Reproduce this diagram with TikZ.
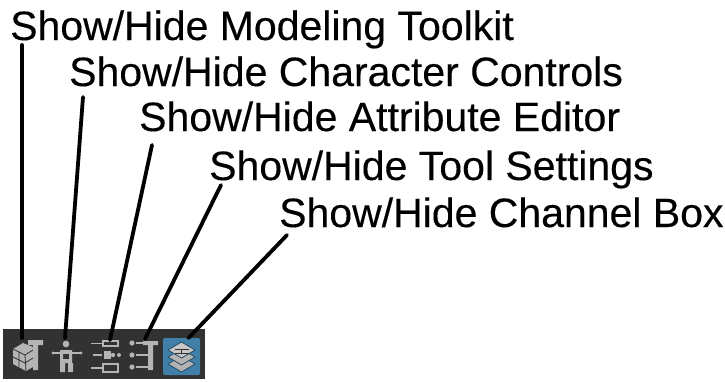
\documentclass[tikz,border=0pt]{standalone}
\usepackage{fontspec}
\setmainfont[FakeBold=0.25]{Liberation Sans}
\definecolor{bar}{HTML}{323232}
\definecolor{ico}{HTML}{B4B4B4}
\definecolor{blu}{HTML}{3F7FA8}
\tikzset{
 lab/.style={anchor=base west,inner sep=0pt,font=\fontsize{41}{46}\selectfont},
 lead/.style={line width=3.8pt,black,line cap=round},
 ic/.style={ico,line width=1.3pt},
 layer/.style={fill=ico,draw=blu!60!black,line width=.8pt}
}
\begin{document}
\begin{tikzpicture}[x=1pt,y=-1pt]
\useasboundingbox (0,0) rectangle (725,381);
\fill[white] (0,0) rectangle (725,381);
\node[lab] (t1) at (10,40) {Show/Hide Modeling Toolkit};
\node[lab] (t2) at (69,86) {Show/Hide Character Controls};
\node[lab] (t3) at (139,131) {Show/Hide Attribute Editor};
\node[lab] (t4) at (209,180) {Show/Hide Tool Settings};
\node[lab] (t5) at (279,227) {Show/Hide Channel Box};
\fill[bar] (3,329) rectangle (205,379);
\fill[blu,rounded corners=2pt] (163,338) rectangle (200,375);
% icon 1
\fill[ico] (13,349) -- (23,343) -- (33,347) -- (33,367) -- (26,371) -- (13,364) -- cycle;
\draw[bar,line width=.8pt] (13,349) -- (25,355) -- (33,350) (25,355) -- (26,371) (13,357) -- (25,363) -- (33,358) (19,352) -- (19,367);
\fill[ico] (28,340) -- (43,340) -- (43,345) -- (38,345) -- (38,370) -- (33,370) -- (33,345) -- (28,345) -- cycle;
% icon 2
\fill[ico] (66,344) circle (3.300);
\fill[ico] (53,353) circle (1.600) (81,353) circle (1.600);
\draw[ic] (54,353) -- (80,353);
\fill[ico,even odd rule] (60,350) rectangle (72,363) (63,353) rectangle (69,359);
\fill[ico] (60,363) rectangle (65,372) (68,363) rectangle (73,372);
% icon 3
\draw[ic] (91,343.500) -- (102,343.500) (93,355) -- (102,355) (91,368) -- (102,368);
\draw[ic] (103,341) rectangle (118,346);
\fill[ico] (104,351) rectangle (111,359);
\fill[ico] (113,355) circle (2.200) (119,355) circle (2);
\draw[ic] (103,364) rectangle (118,372);
% icon 4
\fill[ico] (132,343) circle (2.600) (132,355) circle (2.600) (132,367) circle (2.600);
\draw[ic] (136,343) -- (144,343) (136,355) -- (148,355) (136,367) -- (148,367);
\fill[ico] (143,341) -- (158,341) -- (158,345) -- (153,345) -- (153,370) -- (148,370) -- (148,345) -- (143,345) -- cycle;
% icon 5
\foreach \d in {364,357}{\fill[layer] (181.500,\d-8) -- (195,\d) -- (181.500,\d+8) -- (168,\d) -- cycle;}
\fill[layer,fill=ico!75!white] (181.500,342) -- (195,350) -- (181.500,358) -- (168,350) -- cycle;
\draw[bar,line width=1pt] (175,349) -- (189,349) (175,353) -- (189,353) (181.500,349) -- (181.500,353);
% connectors
\coordinate (a1) at (22,45); \coordinate (b1) at (22,338);
\coordinate (a2) at (83,97); \coordinate (b2) at (65,338);
\coordinate (a3) at (152,145); \coordinate (b3) at (110,340);
\coordinate (a4) at (221,185); \coordinate (b4) at (145,339);
\coordinate (a5) at (287,235); \coordinate (b5) at (188.500,338);
\foreach \i in {1,...,5}{\draw[lead] (a\i) -- (b\i);}
\end{tikzpicture}
\end{document}
